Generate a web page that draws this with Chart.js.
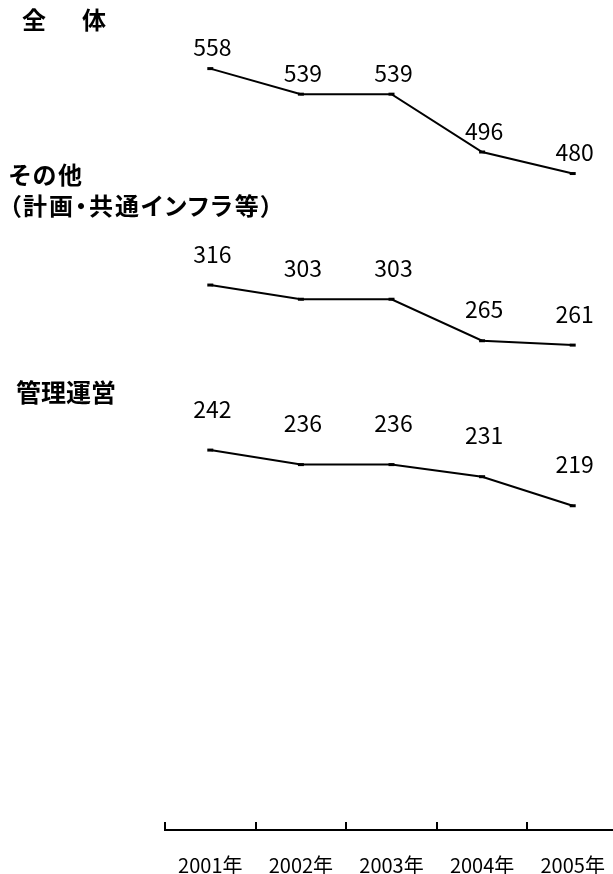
<!DOCTYPE html>
<html lang="ja">
<head>
<meta charset="utf-8">
<title>推移</title>
<script src="https://cdn.jsdelivr.net/npm/chart.js@4.4.1/dist/chart.umd.min.js"></script>
<style>
  html, body { margin: 0; padding: 0; background: #fff; overflow: hidden; }
  #wrap { position: relative; width: 613px; height: 874px; overflow: hidden; }
  #lineChart { position: absolute; left: 0; top: 0; }
  .series-name {
    position: absolute;
    font-family: 'Noto Sans CJK JP', sans-serif;
    font-weight: bold;
    font-size: 24px;
    line-height: 31px;
    color: #000;
    white-space: pre;
  }
</style>
</head>
<body>
<div id="wrap">
  <canvas id="lineChart" width="618" height="874"></canvas>
</div>
<script>
'use strict';

// ------------------ data ------------------
const years = ['2001年', '2002年', '2003年', '2004年', '2005年'];
const totalValues = [558, 539, 539, 496, 480];
const otherValues = [316, 303, 303, 265, 261];
const adminValues = [242, 236, 236, 231, 219];
const seriesNames = ['全　体', 'その他\n（計画・共通インフラ等）', '管理運営'];

// ------------------ layout ------------------
// where each series name sits on the left
const nameBoxes = [
  { left: 22, top: 3, spacing: 6, size: 24, feature: 'normal' },
  { left: 9, top: 158, spacing: 2, size: 24, feature: '"palt"' },
  { left: 16, top: 376, spacing: 0, size: 25, feature: 'normal' }
];
// how far above each point its value is written
const labelGap = [21, 31, 41];

const wrapElem = document.getElementById('wrap');
seriesNames.forEach(function(name, i) {
  const div = document.createElement('div');
  div.className = 'series-name';
  div.textContent = name;
  div.style.left = nameBoxes[i].left + 'px';
  div.style.top = nameBoxes[i].top + 'px';
  div.style.letterSpacing = nameBoxes[i].spacing + 'px';
  div.style.fontSize = nameBoxes[i].size + 'px';
  div.style.fontFeatureSettings = nameBoxes[i].feature;
  wrapElem.appendChild(div);
});

// value labels above the points
const pointLabels = {
  id: 'pointLabels',
  afterDatasetsDraw(chart) {
    const ctx = chart.ctx;
    ctx.save();
    ctx.font = '23px "Noto Sans CJK JP", sans-serif';
    ctx.fillStyle = '#000';
    ctx.textAlign = 'center';
    ctx.textBaseline = 'middle';
    chart.data.datasets.forEach(function(ds, i) {
      const meta = chart.getDatasetMeta(i);
      meta.data.forEach(function(pt, j) {
        ctx.fillText(String(ds.data[j]), pt.x + 2, pt.y - labelGap[i]);
      });
    });
    ctx.restore();
  }
};

function makeDataset(label, values, axisId) {
  return {
    label: label,
    data: values,
    yAxisID: axisId,
    borderColor: '#000',
    borderWidth: 2,
    tension: 0,
    fill: false,
    pointStyle: 'line',
    pointRadius: 3,
    pointBorderWidth: 3,
    pointBorderColor: '#000',
    pointBackgroundColor: '#000'
  };
}

const chartCtx = document.getElementById('lineChart').getContext('2d');
const lineChart = new Chart(chartCtx, {
  type: 'line',
  data: {
    labels: years,
    datasets: [
      makeDataset(seriesNames[0], totalValues, 'yTotal'),
      makeDataset(seriesNames[1], otherValues, 'yOther'),
      makeDataset(seriesNames[2], adminValues, 'yAdmin')
    ]
  },
  options: {
    responsive: false,
    animation: false,
    layout: { autoPadding: false, padding: { left: 165, top: 0, right: 0, bottom: 0 } },
    plugins: {
      legend: { display: false },
      tooltip: { enabled: false }
    },
    scales: {
      x: {
        offset: true,
        grid: {
          offset: true,
          drawOnChartArea: false,
          color: '#000',
          lineWidth: 2,
          tickLength: -8
        },
        border: { color: '#000', width: 2 },
        ticks: {
          color: '#000',
          padding: 31,
          font: { family: '"Noto Sans CJK JP", sans-serif', size: 20 }
        },
        afterFit(scale) {
          scale.height = 44;
          scale.paddingLeft = 0;
          scale.paddingRight = 0;
        }
      },
      // each series has its own hidden scale
      yTotal: { display: false, min: -8, max: 609 },
      yOther: { display: false, min: -183, max: 577 },
      yAdmin: { display: false, min: 85, max: 428 }
    }
  },
  plugins: [pointLabels]
});
</script>
</body>
</html>
